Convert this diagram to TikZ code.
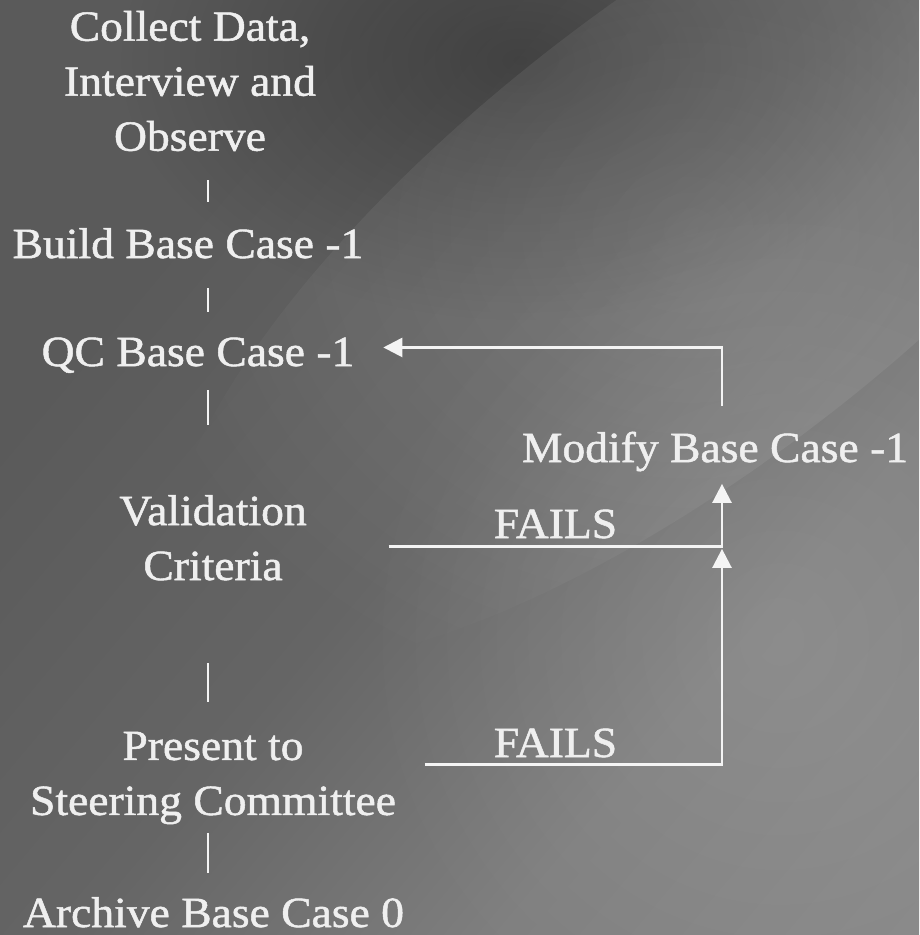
\documentclass[tikz,border=0pt]{standalone}
\usepackage{fontspec}
\setmainfont[FakeStretch=1.06,FakeBold=1.2]{Liberation Serif}
\usetikzlibrary{arrows.meta,fadings}
\definecolor{txtw}{HTML}{EFEFEF}
\definecolor{linew}{HTML}{F4F4F4}
\definecolor{bgA}{HTML}{5A5A5A}
\definecolor{bgB}{HTML}{656565}
\definecolor{bgC}{HTML}{7F7F7F}
\definecolor{bgD}{HTML}{8E8E8E}
\pgfdeclarehorizontalshading{bgshade}{100bp}{color(0bp)=(bgA); color(30bp)=(bgA); color(50bp)=(bgB); color(68bp)=(bgC); color(100bp)=(bgD)}
\tikzfading[name=softfade, inner color=transparent!0, outer color=transparent!100]
\begin{document}
\begin{tikzpicture}[x=1pt,y=-1pt,
  lbl/.style={text=txtw, font=\fontsize{43}{55}\selectfont, align=center, inner sep=0pt, outer sep=0pt},
  conn/.style={draw=linew, line width=2.6pt},
  arr/.style={conn, -{Triangle[length=19pt,width=19pt]}},
  tickline/.style={draw=linew, line width=2.4pt}]
% background
\useasboundingbox (0,0) rectangle (919,935);
\shade[shading=bgshade, shading angle=-40] (0,0) rectangle (919,935);
\fill[black, opacity=0.30, path fading=softfade] (520,60) ellipse (400 and 260);
\fill[white, opacity=0.13, path fading=softfade, rotate around={38:(690,230)}] (690,230) ellipse (640 and 230);
\fill[white, opacity=0.10, path fading=softfade] (780,640) ellipse (420 and 440);

% nodes
\node[lbl] (collect) at (190,81) {Collect Data,\\Interview and\\Observe};
\node[lbl, anchor=base] (build) at (188,258) {Build Base Case -1};
\node[lbl, anchor=base] (qc) at (198,366) {QC Base Case -1};
\node[lbl] (valid) at (213,537.8) {Validation\\Criteria};
\node[lbl] (present) at (213,778) {Present to\\Steering Committee};
\node[lbl, anchor=base] (archive) at (213.5,927) {Archive Base Case 0};
\node[lbl, anchor=base] (modify) at (715,462) {Modify Base Case -1};
\node[lbl, anchor=base] (fails1) at (555.5,538) {FAILS};
\node[lbl, anchor=base] (fails2) at (555.5,757) {FAILS};
\coordinate (tx) at (208,0);

% ticks
\draw[tickline, shorten <=29.3pt, shorten >=26.6pt] (collect.south -| tx) -- (build.north -| tx);
\draw[tickline, shorten <=30pt, shorten >=26pt] (build.south -| tx) -- (qc.north -| tx);
\draw[tickline, shorten <=17.4pt, shorten >=70.6pt] (qc.south -| tx) -- (valid.north -| tx);
\draw[tickline, shorten <=83pt, shorten >=29.5pt] (valid.south -| tx) -- (present.north -| tx);
\draw[tickline, shorten <=8.6pt, shorten >=24.6pt] (present.south -| tx) -- (archive.north -| tx);

% connectors
\draw[arr, shorten <=25.6pt, shorten >=29pt] ([xshift=7pt]modify.north) |- ([yshift=7.8pt]qc.east);
\draw[arr, shorten <=82pt, shorten >=12.6pt] ([yshift=-8.7pt]valid.east) -| ([xshift=7pt]modify.south);
\draw[arr, shorten <=29pt, shorten >=77.6pt] ([yshift=13.5pt]present.east) -| ([xshift=7pt]modify.south);
\end{tikzpicture}
\end{document}
